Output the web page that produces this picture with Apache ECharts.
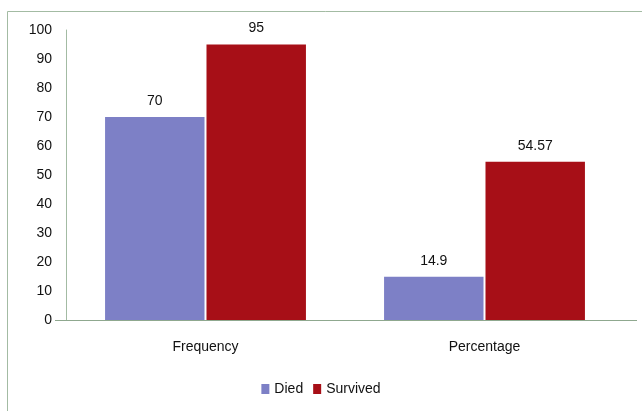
<!DOCTYPE html>
<html><head><meta charset="utf-8">
<script src="https://cdn.jsdelivr.net/npm/echarts@6/dist/echarts.min.js"></script>
<style>html,body{margin:0;padding:0;background:#fff}#c{width:642px;height:411px}</style>
</head><body><div id="c"></div>
<script>
const categories = ["Frequency", "Percentage"];
const died = [70, 14.9];
const survived = [95, 54.57];
const yTicks = [0, 100, 10];

const chart = echarts.init(document.getElementById('c'));
const font = "'Liberation Sans', Arial, sans-serif";
chart.setOption({
  animation: false,
  textStyle: { fontFamily: font },
  graphic: [{
    type: 'rect', shape: { x: 7.5, y: 11.5, width: 660, height: 420 },
    style: { fill: 'none', stroke: '#a3bba3', lineWidth: 1 }, silent: true
  }, {
    type: 'line', shape: { x1: 55, y1: 320.5, x2: 637, y2: 320.5 },
    style: { stroke: '#8fa88f', lineWidth: 1 }, silent: true, z: 10
  }],
  legend: {
    bottom: 10, left: 'center', itemWidth: 8, itemHeight: 10, itemGap: 10,
    icon: 'rect',
    textStyle: { fontSize: 14, color: '#111', fontFamily: font },
    data: ['Died', 'Survived']
  },
  grid: { left: 66, right: 18, top: 30, bottom: 91 },
  xAxis: {
    type: 'category', data: categories,
    axisLine: { lineStyle: { color: '#8fa88f', width: 1 } },
    axisTick: { show: false },
    axisLabel: { fontSize: 14, color: '#111', margin: 20, fontFamily: font }
  },
  yAxis: {
    type: 'value', min: yTicks[0], max: yTicks[1], interval: yTicks[2],
    axisLine: { show: true, lineStyle: { color: '#a3bba3', width: 1 } },
    axisTick: { show: false },
    splitLine: { show: false },
    axisLabel: { fontSize: 14, color: '#111', margin: 14, fontFamily: font }
  },
  series: [
    { name: 'Died', type: 'bar', data: died, barGap: '2%', barCategoryGap: '28%',
      itemStyle: { color: '#7d80c6' },
      label: { show: true, position: 'top', distance: 9, fontSize: 14, color: '#111', fontFamily: font } },
    { name: 'Survived', type: 'bar', data: survived,
      itemStyle: { color: '#a70f17' },
      label: { show: true, position: 'top', distance: 9, fontSize: 14, color: '#111', fontFamily: font } }
  ]
});
</script></body></html>
